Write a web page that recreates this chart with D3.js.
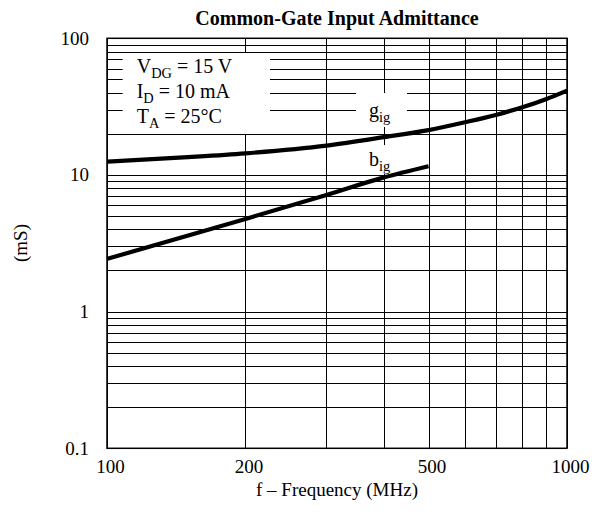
<!DOCTYPE html>
<html>
<head>
<meta charset="utf-8">
<script src="https://cdn.jsdelivr.net/npm/d3@7"></script>
<style>
  html, body { margin: 0; padding: 0; background: #fff; }
  svg text { font-family: "Liberation Serif", "Times New Roman", serif; fill: #000; }
</style>
</head>
<body>
<svg id="chart" width="599" height="526"></svg>
<script>
// ---- data ----
const gFreq = [100, 150, 200, 300, 400, 500, 600, 700, 800, 900, 1000];
const gValues = [12.5, 13.5, 14.4, 16.4, 18.9, 21.3, 24.3, 27.5, 31.3, 35.8, 41.4];
const bFreq = [100, 200, 300, 400, 500];
const bValues = [2.43, 4.77, 7.14, 9.6, 11.6];
const xTickValues = [100, 200, 500, 1000];
const xTickLabels = ["100", "200", "500", "1000"];
const yTickValues = [0.1, 1, 10, 100];
const yTickLabels = ["0.1", "1", "10", "100"];
const titleText = "Common-Gate Input Admittance";
const xTitle = "f \u2013 Frequency (MHz)";
const yTitle = "(mS)";

// ---- layout ----
const svg = d3.select("#chart");
const L = 107, R = 567, T = 38.3, B = 448.3;

const x = d3.scaleLog().domain([100, 1000]).range([L, R]);
const y = d3.scaleLog().domain([0.1, 100]).range([B, T]);

// grid values
const xGrid = [];
for (let v = 100; v <= 1000; v += 100) xGrid.push(v);
const yGrid = [];
[0.1, 1, 10].forEach(d => { for (let k = 1; k <= 10; k++) yGrid.push(+(d * k).toPrecision(3)); });

const grid = svg.append("g").attr("shape-rendering", "crispEdges");
grid.append("g")
  .attr("transform", `translate(0,${B})`)
  .call(d3.axisBottom(x).tickValues(xGrid).tickSize(-(B - T)).tickFormat(""))
  .call(g => g.select(".domain").remove())
  .selectAll("line").attr("stroke", "#000").attr("stroke-width", 1);
grid.append("g")
  .attr("transform", `translate(${L},0)`)
  .call(d3.axisLeft(y).tickValues(yGrid).tickSize(-(R - L)).tickFormat(""))
  .call(g => g.select(".domain").remove())
  .selectAll("line").attr("stroke", "#000").attr("stroke-width", 1);

// white boxes behind labels
svg.append("rect").attr("x", 122.7).attr("y", 53).attr("width", 147.3).attr("height", 81).attr("fill", "#fff");
svg.append("rect").attr("x", 356).attr("y", 93).attr("width", 51).attr("height", 34).attr("fill", "#fff");
svg.append("rect").attr("x", 353).attr("y", 145).attr("width", 45).attr("height", 29).attr("fill", "#fff");

// frame
svg.append("rect").attr("x", L).attr("y", T).attr("width", R - L).attr("height", B - T)
  .attr("fill", "none").attr("stroke", "#000").attr("stroke-width", 1.5);

// curves
const line = d3.line().curve(d3.curveMonotoneX);
svg.append("path")
  .attr("d", line(gFreq.map((f, i) => [x(f), y(gValues[i])])))
  .attr("fill", "none").attr("stroke", "#000").attr("stroke-width", 4.2);
svg.append("path")
  .attr("d", line(bFreq.map((f, i) => [x(f), y(bValues[i])])))
  .attr("fill", "none").attr("stroke", "#000").attr("stroke-width", 4.2);

// tick labels
const xAxis = svg.append("g").attr("transform", `translate(3,${B + 11})`)
  .call(d3.axisBottom(x).tickValues(xTickValues).tickSize(0)
    .tickFormat((d, i) => xTickLabels[i]));
xAxis.select(".domain").remove();
xAxis.selectAll("text").attr("font-size", 19).attr("font-family", "Liberation Serif").attr("dy", "0.71em").attr("y", 0);

const yAxis = svg.append("g").attr("transform", `translate(${L - 18},0)`)
  .call(d3.axisLeft(y).tickValues(yTickValues).tickSize(0)
    .tickFormat((d, i) => yTickLabels[i]));
yAxis.select(".domain").remove();
yAxis.selectAll("text").attr("font-size", 19).attr("font-family", "Liberation Serif").attr("x", 0).attr("dy", "0.3em");

// titles
svg.append("text").attr("x", 337).attr("y", 25).attr("text-anchor", "middle")
  .attr("font-size", 20).attr("font-weight", "bold").text(titleText);
svg.append("text").attr("x", 337).attr("y", 496).attr("text-anchor", "middle")
  .attr("font-size", 19).text(xTitle);
svg.append("text").attr("transform", "translate(27,243) rotate(-90)").attr("text-anchor", "middle")
  .attr("font-size", 19).text(yTitle);

// legend / condition text
function subText(xp, yp, main, sub, rest, size) {
  const t = svg.append("text").attr("x", xp).attr("y", yp).attr("font-size", size);
  t.append("tspan").text(main);
  t.append("tspan").attr("dy", 5).attr("font-size", size * 0.72).text(sub);
  if (rest) t.append("tspan").attr("dy", -5).text(rest);
  return t;
}
subText(136.7, 73.3, "V", "DG", " = 15 V", 20);
subText(136.7, 98, "I", "D", " = 10 mA", 20);
subText(136.7, 122.5, "T", "A", " = 25\u00B0C", 20);

subText(369, 116.5, "g", "ig", null, 20);
subText(369, 166, "b", "ig", null, 20);
</script>
</body>
</html>
